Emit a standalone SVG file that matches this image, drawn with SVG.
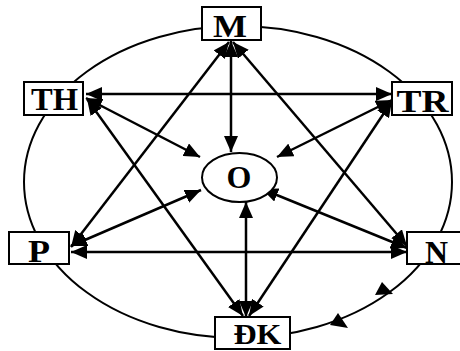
<svg xmlns="http://www.w3.org/2000/svg" width="460" height="351" viewBox="0 0 460 351">
<defs>
<marker id="ah" markerUnits="userSpaceOnUse" markerWidth="17" markerHeight="14" refX="16" refY="7" orient="auto-start-reverse" viewBox="0 0 17 14">
<path d="M0,0 L16,7 L0,14 z" fill="#000"/>
</marker>
<style>
.box{fill:#fff;stroke:#000;stroke-width:2}
.lbl{font-family:"Liberation Serif","Times New Roman",serif;font-weight:bold;font-size:32px;fill:#000;text-anchor:middle}
.ln{stroke:#000;stroke-width:2.5;fill:none;marker-start:url(#ah);marker-end:url(#ah)}
</style>
</defs>
<rect width="460" height="351" fill="#fff"/>
<ellipse id="outer" cx="238" cy="182" rx="214" ry="156" fill="none" stroke="#000" stroke-width="2"/>
<g id="cycle-arrows">
<polygon points="382,282 375,295 393,294" fill="#000"/>
<polygon points="338,313 330,325 348,328" fill="#000"/>
</g>
<g id="connectors">
<line class="ln" x1="86" y1="94" x2="392" y2="94"/>
<line class="ln" x1="71" y1="252" x2="407" y2="252"/>
<line class="ln" x1="231" y1="41" x2="231" y2="152"/>
<line class="ln" x1="246" y1="202" x2="246" y2="317"/>
<line class="ln" x1="229" y1="42" x2="71" y2="247"/>
<line class="ln" x1="233" y1="42" x2="407" y2="246"/>
<line class="ln" x1="87" y1="99" x2="243" y2="316"/>
<line class="ln" x1="392" y1="101" x2="249" y2="316"/>
<line class="ln" x1="86" y1="98" x2="200" y2="157"/>
<line class="ln" x1="392" y1="100" x2="277" y2="157"/>
<line class="ln" x1="71" y1="246" x2="201" y2="190"/>
<line class="ln" x1="407" y1="248" x2="262" y2="189"/>
</g>
<g id="node-M"><rect class="box" x="202" y="7" width="59" height="33"/><text class="lbl" x="230" y="37" textLength="34" lengthAdjust="spacingAndGlyphs">M</text></g>
<g id="node-TH"><rect class="box" x="24" y="82" width="59" height="33"/><text class="lbl" x="54.5" y="110" textLength="47" lengthAdjust="spacingAndGlyphs">TH</text></g>
<g id="node-TR"><rect class="box" x="392" y="82" width="60" height="33"/><text class="lbl" x="422.5" y="112" textLength="52" lengthAdjust="spacingAndGlyphs">TR</text></g>
<g id="node-P"><rect class="box" x="9" y="232" width="60" height="32"/><text class="lbl" x="39" y="262" textLength="22" lengthAdjust="spacingAndGlyphs">P</text></g>
<g id="node-N"><rect class="box" x="407" y="232" width="60" height="32"/><text class="lbl" x="436.5" y="263" textLength="23" lengthAdjust="spacingAndGlyphs">N</text></g>
<g id="node-DK"><rect class="box" x="215" y="317" width="75" height="32"/><text class="lbl" x="257.5" y="344" style="font-size:30px" textLength="48" lengthAdjust="spacingAndGlyphs">ĐK</text></g>
<g id="node-O"><ellipse cx="239.5" cy="177.5" rx="37.5" ry="24.5" fill="#fff" stroke="#000" stroke-width="2"/><text class="lbl" x="239" y="188">O</text></g>
</svg>
